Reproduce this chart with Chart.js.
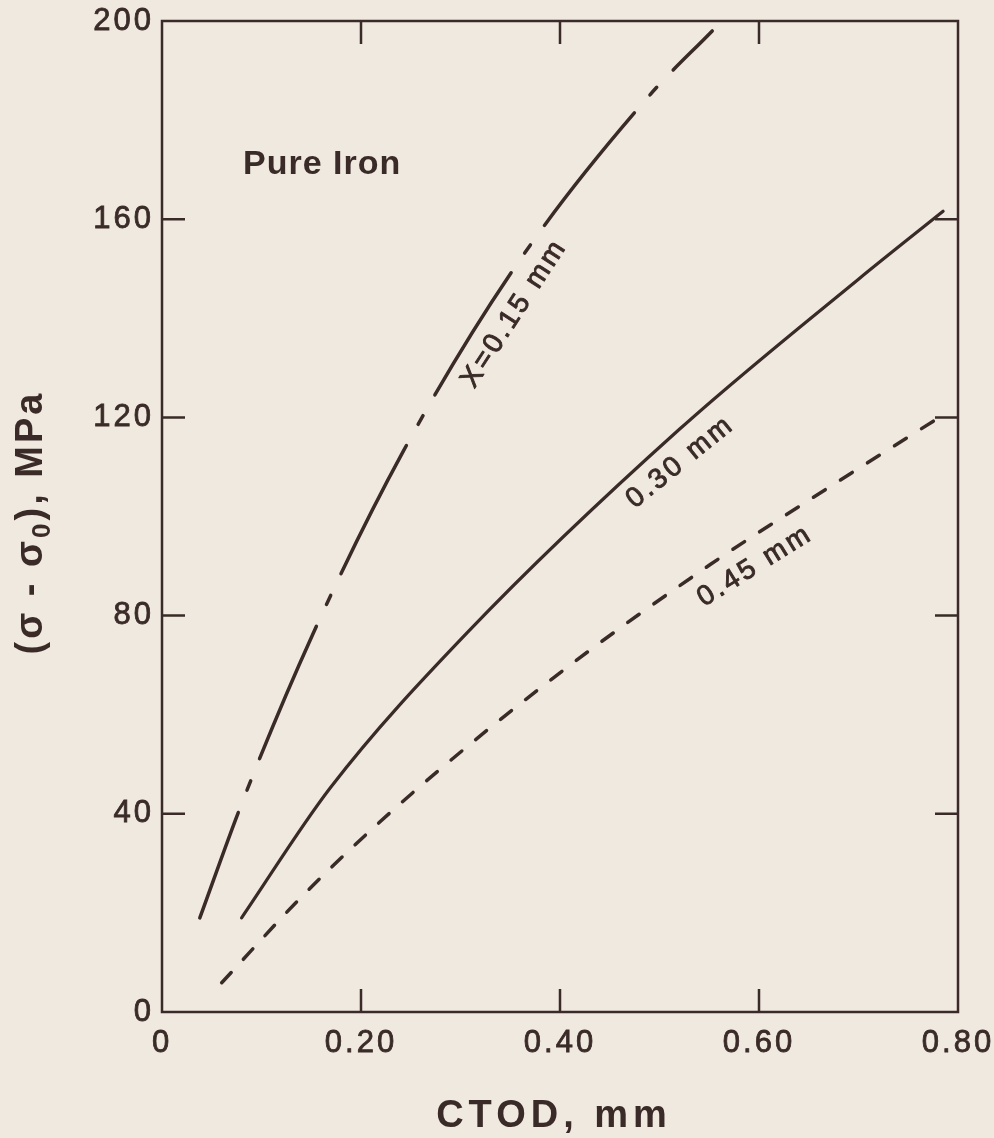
<!DOCTYPE html>
<html>
<head>
<meta charset="utf-8">
<title>Pure Iron – stress vs CTOD</title>
<script src="https://cdn.jsdelivr.net/npm/chart.js@4.4.1/dist/chart.umd.min.js"></script>
<style>
  html, body { margin: 0; padding: 0; background: #efe9df; }
  canvas { display: block; }
</style>
</head>
<body>
<canvas id="chart" width="994" height="1138"></canvas>
<script>
// ---- data -------------------------------------------------------------
// X = 0.15 mm
const ctod015   = [0.038, 0.080, 0.151, 0.242, 0.357, 0.490, 0.553];
const stress015 = [19.0, 42.0, 76.0, 113.0, 151.0, 185.0, 198.0];
// X = 0.30 mm
const ctod030   = [0.080, 0.169, 0.307, 0.520, 0.700, 0.785];
const stress030 = [19.0, 45.2, 76.6, 117.6, 147.9, 161.6];
// X = 0.45 mm
const ctod045   = [0.060, 0.144, 0.246, 0.397, 0.551, 0.651, 0.789];
const stress045 = [5.9, 24.0, 43.2, 68.0, 90.3, 103.4, 121.0];

const xTicks = [0, 0.2, 0.4, 0.6, 0.8];
const xTickLabels = ['0', '0.20', '0.40', '0.60', '0.80'];
const yTicks = [0, 40, 80, 120, 160, 200];
const yTickLabels = ['0', '40', '80', '120', '160', '200'];

const curveNames = ['X=0.15 mm', '0.30 mm', '0.45 mm'];

// ---- styling ----------------------------------------------------------
const INK = '#3a2b28';
const PAPER = '#efe9df';
const FONT = '"Liberation Sans", Arial, Helvetica, sans-serif';
const TICK_LEN = 23;

// in-plot annotations, placed in data units
const curveLabelPos = [
  { x: 0.354, y: 141.0, angle: 57 },
  { x: 0.521, y: 111.0, angle: 39 },
  { x: 0.596, y: 90.0,  angle: 32 }
];
const titlePos = { x: 0.0814, y: 169.1 };

const pts = (xs, ys) => xs.map((x, i) => ({ x, y: ys[i] }));

const paperPlugin = {
  id: 'paper',
  beforeDraw(chart) {
    const ctx = chart.ctx;
    ctx.save();
    ctx.fillStyle = PAPER;
    ctx.fillRect(0, 0, chart.width, chart.height);
    ctx.restore();
    ctx.letterSpacing = '3px';
  }
};

const framePlugin = {
  id: 'frame',
  beforeDatasetsDraw(chart) {
    const { ctx, chartArea: a, scales } = chart;
    ctx.save();
    ctx.strokeStyle = INK;
    ctx.lineWidth = 2.5;
    ctx.lineCap = 'butt';
    ctx.strokeRect(a.left, a.top, a.right - a.left, a.bottom - a.top);
    ctx.beginPath();
    xTicks.slice(1, -1).forEach(v => {
      const px = scales.x.getPixelForValue(v);
      ctx.moveTo(px, a.bottom); ctx.lineTo(px, a.bottom - TICK_LEN);
      ctx.moveTo(px, a.top);    ctx.lineTo(px, a.top + TICK_LEN);
    });
    yTicks.slice(1, -1).forEach(v => {
      const py = scales.y.getPixelForValue(v);
      ctx.moveTo(a.left, py);  ctx.lineTo(a.left + TICK_LEN, py);
      ctx.moveTo(a.right, py); ctx.lineTo(a.right - TICK_LEN, py);
    });
    ctx.stroke();
    ctx.restore();
  }
};

function inkText(ctx, txt, x, y, stroke) {
  ctx.fillText(txt, x, y);
  if (stroke) {
    ctx.lineWidth = stroke;
    ctx.strokeStyle = INK;
    ctx.strokeText(txt, x, y);
  }
}

const textPlugin = {
  id: 'texts',
  afterDraw(chart) {
    const { ctx, chartArea: a, scales } = chart;
    ctx.save();
    ctx.fillStyle = INK;
    ctx.lineJoin = 'round';

    // curve labels, written along each curve
    ctx.font = '28px ' + FONT;
    ctx.letterSpacing = '3px';
    ctx.textAlign = 'center';
    ctx.textBaseline = 'middle';
    curveNames.forEach((name, i) => {
      const p = curveLabelPos[i];
      ctx.save();
      ctx.translate(scales.x.getPixelForValue(p.x), scales.y.getPixelForValue(p.y));
      ctx.rotate(-p.angle * Math.PI / 180);
      inkText(ctx, name, 0, 0, 0.9);
      ctx.restore();
    });

    // material name
    ctx.font = 'bold 34px ' + FONT;
    ctx.letterSpacing = '1px';
    ctx.textAlign = 'left';
    ctx.textBaseline = 'alphabetic';
    inkText(ctx, 'Pure Iron', scales.x.getPixelForValue(titlePos.x), scales.y.getPixelForValue(titlePos.y), 0);

    // x-axis title
    ctx.font = 'bold 38px ' + FONT;
    ctx.letterSpacing = '5px';
    ctx.textAlign = 'center';
    inkText(ctx, 'CTOD, mm', (a.left + a.right) / 2 - 6, chart.height - 11, 0);

    // y-axis title with subscript
    ctx.save();
    ctx.translate(42, (a.top + a.bottom) / 2 + 6);
    ctx.rotate(-Math.PI / 2);
    ctx.textAlign = 'left';
    ctx.letterSpacing = '3px';
    const big = 'bold 38px ' + FONT, small = 'bold 26px ' + FONT;
    const parts = [
      { t: '(σ - σ', f: big, dy: 0 },
      { t: '0', f: small, dy: 8 },
      { t: '), MPa', f: big, dy: 0 }
    ];
    let total = 0;
    parts.forEach(p => { ctx.font = p.f; p.w = ctx.measureText(p.t).width; total += p.w; });
    let cx = -total / 2;
    parts.forEach(p => { ctx.font = p.f; ctx.fillText(p.t, cx, p.dy); cx += p.w; });
    ctx.restore();

    ctx.restore();
  }
};

const lineBase = {
  showLine: true,
  borderColor: INK,
  borderCapStyle: 'round',
  pointRadius: 0,
  pointHoverRadius: 0,
  fill: false,
  cubicInterpolationMode: 'monotone'
};

const tickFont = { family: FONT, size: 31 };

new Chart(document.getElementById('chart').getContext('2d'), {
  type: 'scatter',
  data: {
    datasets: [
      Object.assign({}, lineBase, {
        label: curveNames[0], data: pts(ctod015, stress015),
        borderWidth: 3.5, borderDash: [144, 24, 10, 24], borderDashOffset: 32
      }),
      Object.assign({}, lineBase, {
        label: curveNames[1], data: pts(ctod030, stress030),
        borderWidth: 3.2
      }),
      Object.assign({}, lineBase, {
        label: curveNames[2], data: pts(ctod045, stress045),
        borderWidth: 3.5, borderDash: [14, 18]
      })
    ]
  },
  options: {
    responsive: false,
    animation: false,
    devicePixelRatio: 1,
    layout: { padding: { top: 21, right: 36, left: 0, bottom: 0 } },
    plugins: { legend: { display: false }, tooltip: { enabled: false } },
    scales: {
      x: {
        type: 'linear', min: 0, max: 0.8,
        afterFit(s) { s.height = 126; s.paddingLeft = 0; s.paddingRight = 0; },
        afterBuildTicks(s) { s.ticks = xTicks.map(v => ({ value: v })); },
        grid: { display: false, drawTicks: false },
        border: { display: false },
        ticks: {
          autoSkip: false, maxRotation: 0, padding: 13, color: INK,
          textStrokeColor: INK, textStrokeWidth: 0.8,
          font: tickFont,
          callback: v => xTickLabels[xTicks.indexOf(v)]
        }
      },
      y: {
        type: 'linear', min: 0, max: 200,
        afterFit(s) { s.width = 162; s.paddingTop = 0; s.paddingBottom = 0; },
        afterBuildTicks(s) { s.ticks = yTicks.map(v => ({ value: v })); },
        grid: { display: false, drawTicks: false },
        border: { display: false },
        ticks: {
          autoSkip: false, padding: 8, color: INK,
          textStrokeColor: INK, textStrokeWidth: 0.8,
          font: tickFont,
          callback: v => yTickLabels[yTicks.indexOf(v)]
        }
      }
    }
  },
  plugins: [paperPlugin, framePlugin, textPlugin]
});
</script>
</body>
</html>
